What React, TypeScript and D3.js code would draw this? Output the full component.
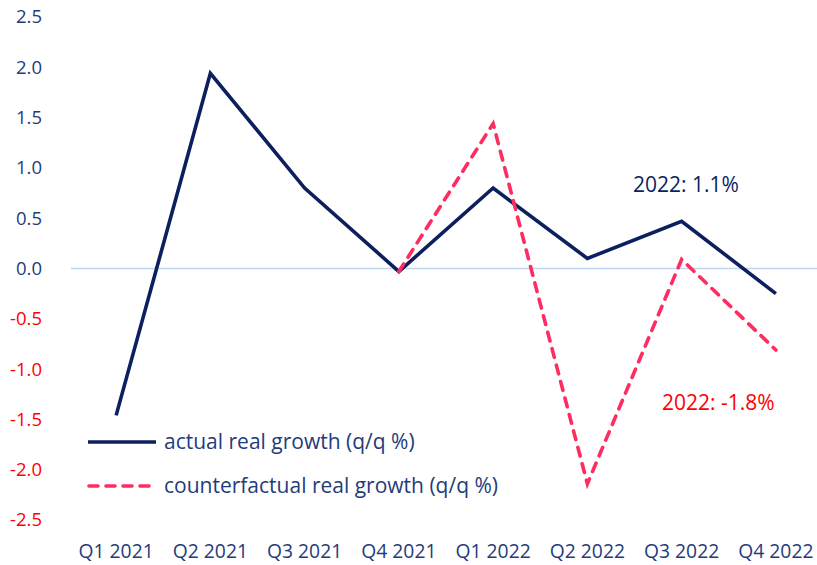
import React from "react";
import * as d3 from "d3";

const categories = ["Q1 2021", "Q2 2021", "Q3 2021", "Q4 2021", "Q1 2022", "Q2 2022", "Q3 2022", "Q4 2022"];
const actualGrowth: (number | null)[] = [-1.46, 1.94, 0.8, -0.03, 0.8, 0.1, 0.47, -0.25];
const counterfactualGrowth: (number | null)[] = [null, null, null, -0.03, 1.44, -2.14, 0.09, -0.81];
const yTicks = [2.5, 2.0, 1.5, 1.0, 0.5, 0.0, -0.5, -1.0, -1.5, -2.0, -2.5];
const seriesNames = ["actual real growth (q/q %)", "counterfactual real growth (q/q %)"];
const annotations = ["2022: 1.1%", "2022: -1.8%"];

const W = 817;
const H = 565;
const FONT = "'Open Sans', 'Noto Sans', sans-serif";
const NAVY = "#0C1F5E";
const PINK = "#FF2D5F";
const LABEL_BLUE = "#1F3C7A";
const RED = "#FF0000";

export default function App() {
  const x = d3.scalePoint<string>().domain(categories).range([69, 823]).padding(0.5);
  const y = d3.scaleLinear().domain([-2.5, 2.5]).range([520, 17]);

  const line = d3
    .line<number | null>()
    .defined((d) => d !== null)
    .x((_, i) => x(categories[i]) as number)
    .y((d) => y(d as number));

  return (
    <svg width={W} height={H} style={{ position: "absolute", left: 0, top: 0, background: "#fff" }}>
      <line x1={71} x2={817} y1={y(0)} y2={y(0)} stroke="#BFD7F5" strokeWidth={1.5} />
      {yTicks.map((t) => (
        <text
          key={t}
          x={42}
          y={y(t)}
          dy="0.35em"
          textAnchor="end"
          fontFamily={FONT}
          fontSize={18.5}
          fill={t < 0 ? RED : LABEL_BLUE}
        >
          {t.toFixed(1)}
        </text>
      ))}
      {categories.map((c) => (
        <text
          key={c}
          x={x(c) as number}
          y={551}
          dy="0.35em"
          textAnchor="middle"
          fontFamily={FONT}
          fontSize={19.3}
          fill={LABEL_BLUE}
        >
          {c}
        </text>
      ))}
      <path d={line(actualGrowth) || ""} fill="none" stroke={NAVY} strokeWidth={3.6} strokeLinejoin="miter" />
      <path
        d={line(counterfactualGrowth) || ""}
        fill="none"
        stroke={PINK}
        strokeWidth={3.6}
        strokeDasharray="9 8"
        strokeLinecap="round"
      />
      <text x={633} y={185} dy="0.35em" fontFamily={FONT} fontSize={21} fill={NAVY}>
        {annotations[0]}
      </text>
      <text x={662} y={403} dy="0.35em" fontFamily={FONT} fontSize={21} fill={RED}>
        {annotations[1]}
      </text>
      <line x1={88} x2={156} y1={442} y2={442} stroke={NAVY} strokeWidth={3.6} />
      <text x={164} y={442} dy="0.35em" fontFamily={FONT} fontSize={21} fill={LABEL_BLUE}>
        {seriesNames[0]}
      </text>
      <line
        x1={89}
        x2={156}
        y1={486}
        y2={486}
        stroke={PINK}
        strokeWidth={3.6}
        strokeDasharray="9 8"
        strokeLinecap="round"
      />
      <text x={164} y={486} dy="0.35em" fontFamily={FONT} fontSize={21} fill={LABEL_BLUE}>
        {seriesNames[1]}
      </text>
    </svg>
  );
}
